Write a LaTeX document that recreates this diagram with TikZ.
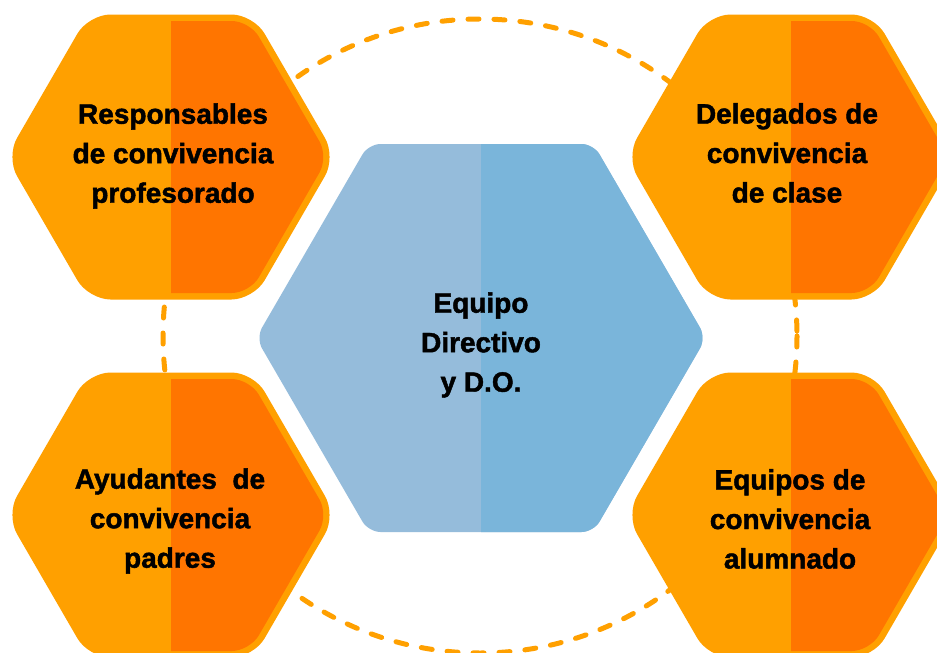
\documentclass[tikz,border=0pt]{standalone}
\usepackage{fontspec}
\setmainfont{Liberation Sans}
\newfontfamily\heavyfont[FakeBold=1.6]{Liberation Sans Bold}
\definecolor{orlight}{RGB}{255,160,0}
\definecolor{ordark}{RGB}{255,117,0}
\definecolor{bluelight}{RGB}{149,188,219}
\definecolor{bluedark}{RGB}{122,181,218}
\newcommand{\hexpath}[4]{({#1},{#2-#4}) -- ({#1+#3/2},{#2-#4}) -- ({#1+#3},{#2}) -- ({#1+#3/2},{#2+#4}) -- ({#1-#3/2},{#2+#4}) -- ({#1-#3},{#2}) -- ({#1-#3/2},{#2-#4}) -- cycle}
\newcommand{\orhex}[2]{%
  \fill[orlight, rounded corners=22pt] \hexpath{#1}{#2}{165}{142.5};
  \begin{scope}
    \clip ({#1},{#2-200}) rectangle ({#1+200},{#2+200});
    \fill[ordark, rounded corners=18pt] \hexpath{#1}{#2}{157.5}{136};
  \end{scope}}
\tikzset{lbl/.style={font=\fontsize{28}{39.5}\heavyfont, text=black, align=center}}
\begin{document}
\begin{tikzpicture}[x=1pt,y=-1pt]
\useasboundingbox (0,0) rectangle (937,653);
\fill[white] (0,0) rectangle (937,653);
% dashed ring
\draw[orlight, line width=5pt, line cap=round, dash pattern=on 11pt off 15pt] (480,336) circle (317);
% centre hexagon
\fill[bluelight, rounded corners=12pt] \hexpath{481}{338}{225}{194};
\begin{scope}
  \clip (481,100) rectangle (760,600);
  \fill[bluedark, rounded corners=12pt] \hexpath{481}{338}{225}{194};
\end{scope}
% orange hexagons
\orhex{171}{157}
\orhex{791}{157}
\orhex{171}{515}
\orhex{791}{515}
% labels
\node[lbl] (c) at (481,345) {Equipo\\Directivo\\y D.O.};
\node[lbl] (tl) at (173,156) {Responsables\\de convivencia\\profesorado};
\node[lbl] (tr) at (787,153) {Delegados de\\convivencia\\de clase};
\node[lbl] (bl) at (170,521) {Ayudantes\ \ de\\convivencia\\padres};
\node[lbl] (br) at (790,519) {Equipos de\\convivencia\\alumnado};
\end{tikzpicture}
\end{document}
